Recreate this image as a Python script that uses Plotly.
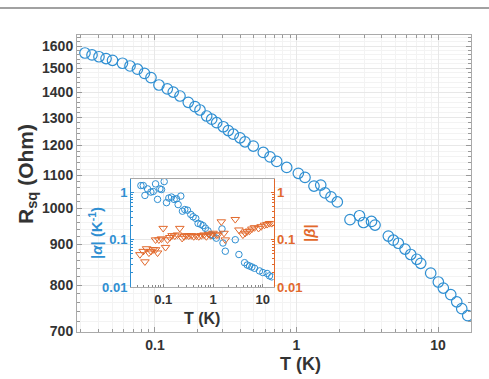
import plotly.graph_objects as go

# ---- main data: sheet resistance vs temperature ----
T_main = [0.0320, 0.0359, 0.0402, 0.0451, 0.0501, 0.0589, 0.0666, 0.0752, 0.0843, 0.0937,
          0.1067, 0.1222, 0.1346, 0.1502, 0.1719, 0.1917, 0.208, 0.2319, 0.2516, 0.2729,
          0.3039, 0.3296, 0.3576, 0.3988, 0.4325, 0.4951, 0.5826, 0.6498, 0.7245, 0.8527,
          1.030, 1.148, 1.329, 1.483, 1.590, 1.753, 1.942, 2.388, 2.787, 2.975,
          3.388, 3.588, 4.455, 4.833, 5.242, 5.846, 6.414, 7.072, 7.546, 8.878,
          10.05, 10.90, 12.30, 13.56, 14.71, 16.22]
R_main = [1568, 1559, 1551, 1543, 1535, 1522, 1510, 1496, 1478, 1460,
          1429, 1413, 1400, 1384, 1359, 1342, 1329, 1306, 1294, 1281,
          1266, 1252, 1239, 1226, 1212, 1197, 1175, 1160, 1145, 1125,
          1106, 1093, 1066, 1069, 1045, 1033, 1018, 967, 978, 959,
          962, 952, 922, 911, 903, 888, 874, 862, 852, 828,
          807, 793, 778, 762, 747, 732]

# ---- inset data: |alpha| and |beta| vs T ----
T_alpha = [0.0357, 0.0398, 0.0430, 0.0486, 0.0567, 0.0631, 0.0703, 0.0771, 0.0858, 0.0926,
           0.1047, 0.1166, 0.1298, 0.1468, 0.166, 0.1848, 0.1995, 0.2257, 0.2436, 0.2713,
           0.3067, 0.3575, 0.398, 0.4502, 0.501, 0.5666, 0.631, 0.703, 0.794, 0.898,
           1.0, 1.166, 1.514, 1.585, 1.765, 2.797, 3.311, 4.30, 4.86, 5.41,
           6.03, 6.81, 8.58, 10.0, 12.2, 13.6, 15.1]
alpha_vals = [1.40, 1.40, 0.866, 1.19, 1.02, 1.05, 1.52, 0.715, 1.19, 1.155,
              1.70, 0.609, 0.762, 0.80, 0.715, 0.738, 0.554, 0.839, 0.402, 0.435,
              0.422, 0.343, 0.306, 0.283, 0.222, 0.212, 0.199, 0.175, 0.154, 0.127,
              0.123, 0.108, 0.1695, 0.0853, 0.0571, 0.100, 0.0487, 0.0327, 0.0292, 0.0278,
              0.0265, 0.0249, 0.0219, 0.0202, 0.0193, 0.0172, 0.0164]

T_beta = [0.0341, 0.0398, 0.0430, 0.0464, 0.0517, 0.0567, 0.0631, 0.0703, 0.0771, 0.0703,
          0.0819, 0.0926, 0.100, 0.1113, 0.122, 0.136, 0.151, 0.171, 0.1935, 0.2154,
          0.240, 0.263, 0.293, 0.326, 0.369, 0.410, 0.464, 0.517, 0.584, 0.661,
          0.736, 0.819, 0.898, 1.0, 1.166, 1.259, 1.468, 1.66, 1.765, 2.797,
          3.31, 3.98, 4.43, 4.86, 5.41, 6.03, 6.81, 8.19, 9.26, 10.8,
          12.2, 13.6, 15.1]
beta_vals = [0.0487, 0.0571, 0.0343, 0.0649, 0.0528, 0.0571, 0.0619, 0.0619, 0.0528, 0.100,
             0.100, 0.105, 0.175, 0.0692, 0.100, 0.112, 0.123, 0.121, 0.127, 0.175,
             0.108, 0.117, 0.123, 0.121, 0.123, 0.117, 0.121, 0.117, 0.123, 0.127,
             0.117, 0.131, 0.123, 0.138, 0.127, 0.127, 0.241, 0.138, 0.100, 0.27,
             0.162, 0.127, 0.138, 0.149, 0.154, 0.1695, 0.181, 0.175, 0.19, 0.205,
             0.212, 0.222, 0.222]

main_y_ticks = [700, 800, 900, 1000, 1100, 1200, 1300, 1400, 1500, 1600]
main_x_ticks = [0.1, 1, 10]
main_x_labels = ["0.1", "1", "10"]
inset_y_ticks = [0.01, 0.1, 1]
inset_y_labels = ["0.01", "0.1", "1"]

BLUE = "#2F8FD2"
ORANGE = "#E2692C"
FONT = "Liberation Sans, Arial, sans-serif"
TXT = "#333333"

W, H = 489, 379
def px_x(p): return p / W
def px_y(p): return 1 - p / H

# minor tick positions (styling only)
minor_x = [m * 10 ** e for e in (-2, -1, 0, 1) for m in range(2, 10)]
minor_y = list(range(700, 1660, 20))
minor_in_y = [m * 10 ** e for e in (-2, -1, 0) for m in range(2, 10)]

fig = go.Figure()
fig.add_trace(go.Scatter(x=T_main, y=R_main, mode="markers", xaxis="x", yaxis="y",
                         marker=dict(symbol="circle-open", size=10.5, color=BLUE,
                                     line=dict(width=1.2, color=BLUE)),
                         showlegend=False))
fig.add_trace(go.Scatter(x=T_alpha, y=alpha_vals, mode="markers", xaxis="x2", yaxis="y2",
                         marker=dict(symbol="circle-open", size=6.5, color=BLUE,
                                     line=dict(width=1, color=BLUE)),
                         showlegend=False))
fig.add_trace(go.Scatter(x=T_beta, y=beta_vals, mode="markers", xaxis="x2", yaxis="y3",
                         marker=dict(symbol="triangle-down-open", size=7.5, color=ORANGE,
                                     line=dict(width=1, color=ORANGE)),
                         showlegend=False))

grid_major = "#e8e8e8"
grid_minor = "#f3f3f3"

fig.update_layout(
    width=W, height=H,
    margin=dict(l=0, r=0, t=0, b=0, autoexpand=False),
    paper_bgcolor="white", plot_bgcolor="white",
    font=dict(family=FONT, color=TXT),
    xaxis=dict(type="log", domain=[px_x(77), px_x(471)], automargin=False,
               range=[-1.551, 1.233],
               tickvals=main_x_ticks, ticktext=main_x_labels,
               tickfont=dict(size=14, color=TXT, family=FONT, weight="bold"),
               ticks="inside", ticklen=5, tickcolor="#999999",
               showline=True, linecolor="#aaaaaa", linewidth=1, mirror="allticks",
               showgrid=True, gridcolor=grid_major, zeroline=False,
               minor=dict(tickvals=minor_x, ticks="inside", ticklen=3,
                          tickcolor="#999999", showgrid=True, gridcolor=grid_minor),
               anchor="y"),
    yaxis=dict(type="log", domain=[px_y(332), px_y(35)], automargin=False,
               range=[2.8439, 3.218],
               tickvals=main_y_ticks, ticktext=[str(v) for v in main_y_ticks],
               tickfont=dict(size=14, color=TXT, family=FONT, weight="bold"),
               ticks="inside", ticklen=5, tickcolor="#999999",
               showline=True, linecolor="#aaaaaa", linewidth=1, mirror="allticks",
               showgrid=True, gridcolor=grid_major, zeroline=False,
               minor=dict(tickvals=minor_y, ticks="inside", ticklen=3,
                          tickcolor="#999999", showgrid=True, gridcolor=grid_minor),
               anchor="x"),
    xaxis2=dict(type="log", domain=[px_x(131), px_x(273.5)], automargin=False,
                range=[-1.646, 1.214],
                tickvals=main_x_ticks, ticktext=main_x_labels,
                tickfont=dict(size=13, color=TXT, family=FONT, weight="bold"),
                ticks="inside", ticklen=3, tickcolor="#888888",
                showline=True, linecolor="#aaaaaa", linewidth=1, mirror=True,
                showgrid=True, gridcolor=grid_major, zeroline=False,
                minor=dict(tickvals=minor_x, ticks="inside", ticklen=2,
                           tickcolor="#888888", showgrid=False),
                anchor="y2"),
    yaxis2=dict(type="log", domain=[px_y(287), px_y(179)], automargin=False,
                range=[-2, 0.285],
                tickvals=inset_y_ticks, ticktext=inset_y_labels,
                tickfont=dict(size=13, color=BLUE, family=FONT, weight="bold"),
                ticks="inside", ticklen=3, tickcolor=BLUE,
                showline=True, linecolor=BLUE, linewidth=1,
                showgrid=True, gridcolor=grid_major, zeroline=False,
                minor=dict(tickvals=minor_in_y, ticks="inside", ticklen=2,
                           tickcolor=BLUE, showgrid=False),
                anchor="x2"),
    yaxis3=dict(type="log", overlaying="y2", side="right", automargin=False,
                range=[-2, 0.285],
                tickvals=inset_y_ticks, ticktext=inset_y_labels,
                tickfont=dict(size=13, color=ORANGE, family=FONT, weight="bold"),
                ticks="inside", ticklen=3, tickcolor=ORANGE,
                showline=True, linecolor=ORANGE, linewidth=1,
                showgrid=False, zeroline=False,
                minor=dict(tickvals=minor_in_y, ticks="inside", ticklen=2,
                           tickcolor=ORANGE, showgrid=False),
                anchor="x2"),
    shapes=[dict(type="line", xref="paper", yref="paper", x0=0, x1=1,
                 y0=px_y(8), y1=px_y(8), line=dict(color="#444444", width=1.2))],
    annotations=[
        dict(text="<b>T (K)</b>", xref="paper", yref="paper", x=px_x(300), y=px_y(364),
             showarrow=False, font=dict(size=18, color=TXT, family=FONT),
             xanchor="center", yanchor="middle"),
        dict(text="<b>R<sub>sq</sub> (Ohm)</b>", xref="paper", yref="paper",
             x=px_x(27), y=px_y(174), textangle=-90,
             showarrow=False, font=dict(size=21, color=TXT, family=FONT),
             xanchor="center", yanchor="middle"),
        dict(text="<b>T (K)</b>", xref="paper", yref="paper", x=px_x(202), y=px_y(318),
             showarrow=False, font=dict(size=16, color=TXT, family=FONT),
             xanchor="center", yanchor="middle"),
        dict(text="<b>|<i>α</i>| (K<sup>-1</sup>)</b>", xref="paper", yref="paper",
             x=px_x(95), y=px_y(233), textangle=-90,
             showarrow=False, font=dict(size=15, color=BLUE, family=FONT),
             xanchor="center", yanchor="middle"),
        dict(text="<b>|<i>β</i>|</b>", xref="paper", yref="paper",
             x=px_x(309), y=px_y(233), textangle=-90,
             showarrow=False, font=dict(size=15, color=ORANGE, family=FONT),
             xanchor="center", yanchor="middle"),
    ],
)

fig.write_html("out.html")
